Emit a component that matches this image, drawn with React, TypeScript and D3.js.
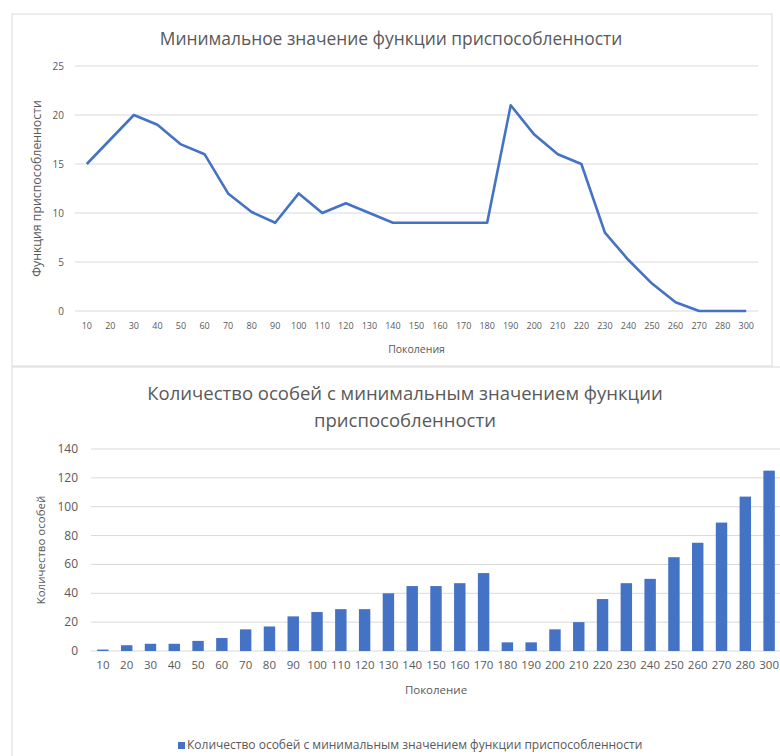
import React from "react";
import * as d3 from "d3";

// Generations on the category axis (shared by both charts)
const generations = [
  "10", "20", "30", "40", "50", "60", "70", "80", "90", "100",
  "110", "120", "130", "140", "150", "160", "170", "180", "190", "200",
  "210", "220", "230", "240", "250", "260", "270", "280", "300",
];

// Minimum fitness value per generation
const minFitness = [
  15, 17.5, 20, 19, 17, 16, 12, 10.1, 9, 12,
  10, 11, 10, 9, 9, 9, 9, 9, 21, 18,
  16, 15, 8, 5.2, 2.8, 0.9, 0, 0, 0,
];

// Number of individuals holding the minimum fitness value
const countAtMin = [
  1, 4, 5, 5, 7, 9, 15, 17, 24, 27,
  29, 29, 40, 45, 45, 47, 54, 6, 6, 15,
  20, 36, 47, 50, 65, 75, 89, 107, 125,
];

const fitnessTicks = [0, 5, 10, 15, 20, 25];
const countTicks = [0, 20, 40, 60, 80, 100, 120, 140];

const FONT = "'Open Sans', 'Noto Sans', sans-serif";
const TEXT = "#595959";
const GRID = "#d9d9d9";
const BLUE = "#4472c4";

function LineChart() {
  const left = 75, right = 758, top = 66, bottom = 311;
  const x = d3.scaleBand().domain(generations).range([left, right]);
  const y = d3.scaleLinear().domain([0, 25]).range([bottom, top]);
  const line = d3
    .line<number>()
    .x((_, i) => (x(generations[i]) ?? 0) + x.bandwidth() / 2)
    .y((d) => y(d));

  return (
    <g>
      <rect x={12} y={14} width={760} height={352} fill="#fff" stroke={GRID} />
      <text x={391} y={45} textAnchor="middle" fontSize={17.4} fill={TEXT} fontFamily={FONT}>
        Минимальное значение функции приспособленности
      </text>
      {fitnessTicks.map((t) => (
        <g key={t}>
          <line x1={left} x2={right} y1={y(t)} y2={y(t)} stroke={GRID} strokeWidth={1} />
          <text x={64} y={y(t) + 3.5} textAnchor="end" fontSize={10} fill={TEXT} fontFamily={FONT}>
            {t}
          </text>
        </g>
      ))}
      {generations.map((g) => (
        <text
          key={g}
          x={(x(g) ?? 0) + x.bandwidth() / 2}
          y={329}
          textAnchor="middle"
          fontSize={9}
          fill={TEXT}
          fontFamily={FONT}
        >
          {g}
        </text>
      ))}
      <path d={line(minFitness) ?? ""} fill="none" stroke={BLUE} strokeWidth={2.6} strokeLinejoin="round" />
      <text x={(left + right) / 2} y={353} textAnchor="middle" fontSize={10.5} fill={TEXT} fontFamily={FONT}>
        Поколения
      </text>
      <text
        transform={`translate(41, ${(top + bottom) / 2}) rotate(-90)`}
        textAnchor="middle"
        fontSize={12.3}
        fill={TEXT}
        fontFamily={FONT}
      >
        Функция приспособленности
      </text>
    </g>
  );
}

function BarChart() {
  const left = 91, right = 781, top = 449, bottom = 651;
  const x = d3.scaleBand().domain(generations).range([left, right]).paddingInner(0.52).paddingOuter(0.26);
  const y = d3.scaleLinear().domain([0, 140]).range([bottom, top]);
  const cx = (g: string) => (x(g) ?? 0) + x.bandwidth() / 2;

  return (
    <g>
      <rect x={12} y={367} width={820} height={420} fill="#fff" stroke={GRID} />
      <text x={405} y={400} textAnchor="middle" fontSize={18.5} fill={TEXT} fontFamily={FONT}>
        Количество особей с минимальным значением функции
      </text>
      <text x={405} y={427} textAnchor="middle" fontSize={18.5} fill={TEXT} fontFamily={FONT}>
        приспособленности
      </text>
      {countTicks.map((t) => (
        <g key={t}>
          <line x1={left} x2={right} y1={y(t)} y2={y(t)} stroke={GRID} strokeWidth={1} />
          <text x={78} y={y(t) + 4} textAnchor="end" fontSize={12} fill={TEXT} fontFamily={FONT}>
            {t}
          </text>
        </g>
      ))}
      {countAtMin.map((v, i) => (
        <rect
          key={generations[i]}
          x={x(generations[i])}
          y={y(v)}
          width={x.bandwidth()}
          height={bottom - y(v)}
          fill={BLUE}
        />
      ))}
      {generations.map((g) => (
        <text key={g} x={cx(g)} y={669} textAnchor="middle" fontSize={11.5} fill={TEXT} fontFamily={FONT}>
          {g}
        </text>
      ))}
      <text x={(left + right) / 2} y={694} textAnchor="middle" fontSize={11.5} fill={TEXT} fontFamily={FONT}>
        Поколение
      </text>
      <text
        transform={`translate(45, ${(top + bottom) / 2}) rotate(-90)`}
        textAnchor="middle"
        fontSize={11.5}
        fill={TEXT}
        fontFamily={FONT}
      >
        Количество особей
      </text>
      <rect x={178} y={742} width={7} height={7} fill={BLUE} />
      <text x={187} y={749} fontSize={12} fill={TEXT} fontFamily={FONT}>
        Количество особей с минимальным значением функции приспособленности
      </text>
    </g>
  );
}

export default function App() {
  return (
    <svg
      width={780}
      height={756}
      style={{ position: "absolute", left: 0, top: 0, background: "#fff" }}
    >
      <rect width={780} height={756} fill="#fff" />
      <LineChart />
      <BarChart />
    </svg>
  );
}
